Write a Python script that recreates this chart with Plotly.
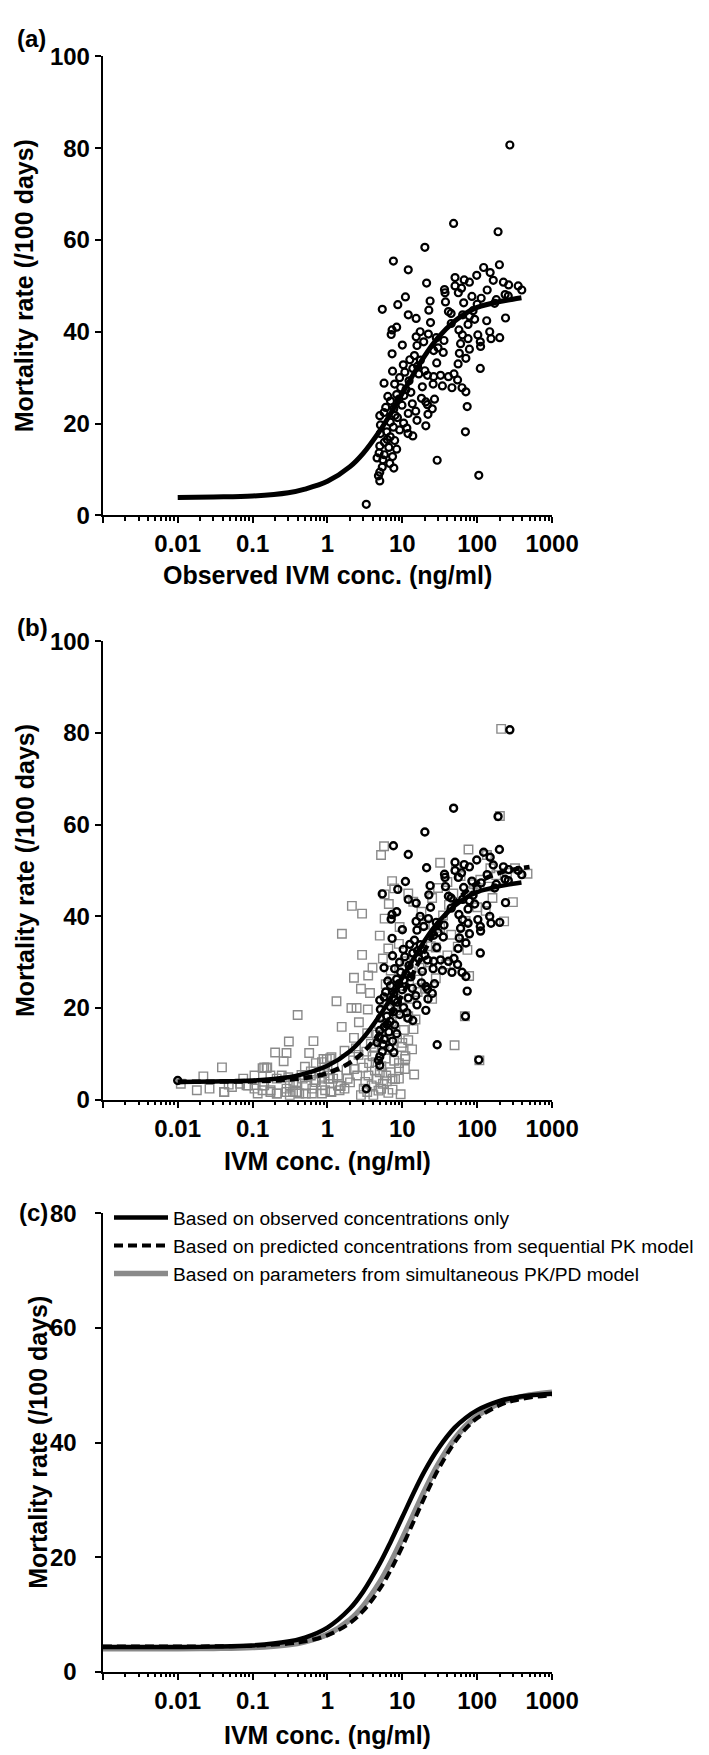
import plotly.graph_objects as go

# ---------------- data ----------------
# observed IVM concentration (ng/ml) and mortality rate (/100 days) -- black circles
obs_conc = [273, 48.4, 190, 20, 7.6, 12, 198, 122, 149, 98.6, 50.6, 67, 164, 224, 263, 353,
            78.7, 21.1, 50.6, 394, 36.6, 61.7, 136, 37.2, 56, 85, 236, 11, 113, 37.7, 23.5,
            66, 171, 8.7, 5.4, 41.3, 44.8, 22.6, 12, 239, 64, 78.7, 92.5, 134, 15.3, 23.8,
            75.5, 57, 8.4, 7.3, 7.1, 17.3, 147, 102, 22.3, 200, 153, 28.4, 63.5, 15.3, 36,
            75.5, 19.3, 110, 60, 10, 15.7, 111, 78.7, 26.2, 35.2, 57.8, 7.3, 70.6, 12.6,
            17.4, 55.6, 28.8, 10.3, 13.8, 110, 20, 7.4, 10.8, 16.6, 21.7, 26.2, 32.4, 41.3,
            54.7, 12.3, 5.7, 25.8, 34.3, 46, 62.7, 7.9, 9.5, 11.2, 70.6, 6.4, 8.4, 10.5, 18,
            26.9, 6.95, 13.6, 20.6, 9.9, 73.5, 25.1, 7.7, 15.1, 5.7, 12, 22, 8.6, 5.0, 15.7,
            6.9, 10.4, 5.1, 20.6, 7.6, 9.2, 6.2, 11.9, 13.8, 69.6, 5.1, 6.9, 5.75, 7.9, 5.0,
            6.6, 8.4, 4.9, 5.75, 7.4, 5.5, 29.2, 6.8, 5.4, 7.7, 5.0, 105, 4.8, 5.0, 3.3,
            21.7, 49, 14.5, 9.2, 18.5, 30, 45, 88, 6.0, 8.0, 11.5, 6.3, 4.6, 9.0, 13.0, 16.0,
            100, 260, 180]
obs_mort = [80.7, 63.6, 61.8, 58.4, 55.4, 53.5, 54.6, 54.0, 52.9, 52.3, 51.8, 51.3, 51.2, 50.8,
            50.2, 50.0, 50.8, 50.6, 50.0, 49.1, 49.2, 49.5, 49.1, 48.5, 48.5, 47.7, 48.1, 47.6,
            47.3, 46.5, 46.7, 46.3, 46.2, 45.9, 44.9, 44.4, 44.0, 44.7, 43.7, 43.0, 43.7, 43.4,
            42.7, 42.4, 42.9, 42.0, 41.6, 40.4, 41.0, 40.4, 39.4, 40.0, 40.0, 39.3, 39.5, 38.7,
            38.5, 38.7, 39.3, 38.9, 38.1, 38.5, 37.8, 37.8, 37.4, 37.1, 37.0, 36.8, 36.2, 35.9,
            35.5, 35.3, 35.2, 34.2, 33.9, 33.8, 33.0, 33.2, 32.8, 32.0, 32.0, 31.5, 31.4, 31.2,
            30.8, 30.5, 30.2, 30.5, 30.2, 29.5, 29.3, 28.8, 28.6, 28.2, 27.8, 27.8, 28.6, 27.8,
            27.4, 26.9, 25.9, 26.3, 26.1, 25.5, 25.3, 24.9, 24.3, 24.7, 24.0, 23.7, 23.2, 23.2,
            22.7, 22.4, 22.2, 22.0, 21.3, 21.7, 20.7, 20.3, 20.1, 19.7, 19.5, 19.2, 18.6, 18.2,
            17.8, 17.3, 18.2, 17.8, 17.1, 15.9, 16.3, 15.1, 14.8, 14.4, 13.6, 13.2, 12.8, 12.1,
            12.0, 11.3, 10.5, 10.3, 9.4, 8.7, 8.6, 7.5, 2.4,
            24.1, 30.8, 34.8, 30.0, 28.0, 36.5, 41.8, 44.6, 23.5, 21.8, 19.0, 16.5, 12.5, 25.3,
            26.8, 32.5, 46.0, 47.8, 47.0]

# extra observed point shown only in panel (b)
obs_b_extra_conc = [0.01]
obs_b_extra_mort = [4.2]

# predicted IVM concentration (ng/ml) and mortality -- grey squares (panel b)
pred_conc = [209, 201, 5.7, 5.2, 76.5, 32, 52, 135, 300, 229, 7.3, 7.8, 5.8, 6.6, 2.12, 2.9,
             5.8, 9.2, 1.56, 2.9, 5.5, 4.0, 2.26, 3.5, 2.8, 3.7, 1.32, 2.09, 2.45, 3.46, 0.40,
             1.55, 2.63, 49.9, 68.4, 107, 470, 78, 74, 12, 14, 18, 25, 30, 40, 60, 90, 150,
             180, 250, 20, 35, 45, 55, 70, 100, 130, 160, 9, 11, 13, 16, 22, 28, 8, 10, 12, 15,
             20, 25, 7, 6, 6.5, 5, 10.5, 14.1, 10, 14.4, 10.8, 9.0, 10.9, 7.4, 9.0, 6.1, 5.2,
             7.4, 4.1, 3.4, 0.305, 0.65, 2.26, 0.2, 0.284, 0.57, 0.26, 1.69, 1.08, 0.7, 0.845,
             0.039, 0.136, 0.154, 0.022, 0.075, 0.106, 0.011, 0.018, 0.042, 0.048, 0.087,
             0.136, 0.143, 0.157, 0.885, 0.98, 1.13,
             0.0266, 0.0415, 0.053, 0.068, 0.083, 0.106, 0.117, 0.143, 0.174, 0.212, 0.284,
             0.314, 0.383, 0.515, 0.628, 0.845, 1.03, 1.38, 1.69, 1.86, 2.26, 2.5, 3.05, 3.53,
             3.9, 4.3, 4.5, 5.25,
             0.173, 0.21, 0.245, 0.30, 0.314, 0.383, 0.467, 0.515, 0.6, 0.69, 0.845, 0.93,
             1.08, 1.19, 1.38, 0.136, 0.173, 0.21, 0.284, 0.347, 0.42, 0.62, 0.845, 1.13, 1.45,
             2.0, 2.8, 3.2, 3.6, 4.0, 4.8, 5.5, 6.0, 6.5, 7.0, 7.5, 8.0, 8.5, 9.0, 9.5, 4.2,
             3.0, 2.6, 1.2, 1.5, 0.7, 0.9, 1.1, 0.45, 0.35, 0.6, 5.8, 6.8, 7.2, 5.3, 4.6, 9.8,
             11.0, 12.0, 13.5, 8.2, 6.3, 9.5, 10.5, 12.5, 3.3, 4.4, 5.0, 6.2, 7.8, 3.8, 2.2,
             1.8, 2.4, 3.4, 4.9, 1.0, 0.8, 0.5, 16, 18, 24, 32, 42, 48, 85, 110, 140, 320, 28,
             38, 65, 40]
pred_mort = [80.9, 61.9, 55.3, 53.4, 54.6, 51.7, 50.3, 53.4, 43.1, 38.9, 47.7, 46.1, 44.8,
             42.7, 42.3, 40.6, 39.5, 37.7, 36.2, 31.6, 30.8, 28.8, 26.6, 27.1, 24.2, 23.3, 21.5,
             20.0, 20.0, 19.7, 18.5, 15.9, 16.9, 11.9, 18.2, 8.6, 49.3, 27.0, 32.7, 45.0, 43.2,
             41.0, 44.0, 46.2, 47.5, 48.8, 47.0, 50.5, 49.0, 49.5, 38.2, 40.2, 36.0, 33.4, 39.0,
             42.0, 41.2, 44.0, 34.0, 30.2, 28.0, 26.2, 30.0, 33.2, 22.0, 20.2, 18.2, 17.5, 24.2,
             22.0, 28.2, 25.2, 33.0, 35.8, 15.2, 15.4, 12.4, 5.5, 6.7, 6.9, 8.9, 4.6, 4.6, 5.3,
             2.4, 2.2, 1.0, 1.7, 12.7, 12.8, 13.5, 10.3, 10.2, 10.2, 8.4, 10.7, 9.0, 8.0, 8.2,
             7.07, 6.9, 6.9, 5.1, 4.6, 5.3, 3.5, 2.06, 1.7, 3.3, 3.1, 2.06, 7.07, 7.07, 8.9,
             8.9, 9.3,
             2.43, 1.7, 2.78, 3.5, 3.14, 2.43, 1.35, 3.14, 2.06, 1.35, 2.43, 0.99, 1.7, 1.35,
             2.43, 3.14, 4.57, 5.28, 2.43, 4.57, 6.7, 5.28, 2.43, 5.28, 3.14, 6.36, 4.57, 7.3,
             5.3, 4.6, 5.3, 4.9, 3.1, 3.85, 4.6, 3.1, 5.3, 3.85, 4.6, 2.06, 5.3, 4.6, 3.1, 3.1,
             1.7, 1.35, 1.7, 1.7, 1.35, 1.35, 1.35, 1.7, 2.06,
             3.8, 1.0, 3.9, 8.0, 9.5, 2.0, 3.5, 9.0, 1.5, 6.0, 11.0, 4.5, 13.5, 8.0, 1.2, 11.5,
             7.0, 9.8, 7.4, 3.0, 4.3, 5.8, 1.8, 5.4, 3.9, 6.2, 13.3, 15.0, 17.0, 11.8, 14.2,
             11.5, 9.5, 13.0, 11.0, 19.5, 21.5, 23.0, 25.5, 22.0, 10.5, 8.2, 6.0, 4.0, 8.5,
             12.2, 8.6, 6.5, 11.2, 14.5, 16.5, 6.6, 5.9, 7.2, 23.5, 28.8, 33.5, 37.5, 42.5,
             45.0, 45.5, 48.0, 46.5, 50.5, 26.5, 29.5, 36.0, 31.5]

# fitted curve, observed concentrations only (panels a and b)
fit_a_conc = [0.01, 0.03, 0.1, 0.3, 0.5, 1, 2, 3, 5, 7, 10, 15, 20, 30, 50, 70, 100, 200, 300, 390]
fit_a_mort = [3.9, 4.0, 4.2, 4.9, 5.7, 7.4, 10.6, 13.5, 18.4, 22.2, 26.6, 31.5, 34.8, 38.7,
              42.3, 44.0, 45.3, 46.6, 47.1, 47.4]

# fitted curve, predicted concentrations (panel b, dashed)
fit_b_conc = [0.01, 0.03, 0.1, 0.3, 0.5, 1, 2, 3, 5, 7, 10, 20, 30, 50, 100, 200, 300, 500]
fit_b_mort = [3.9, 3.95, 4.03, 4.37, 4.75, 5.82, 8.09, 10.37, 14.6, 18.3, 22.9, 32.6, 37.8,
              42.9, 47.3, 49.5, 50.2, 50.8]

# panel (c) curves
fit_c_conc = [0.001, 0.01, 0.03, 0.1, 0.3, 0.5, 1, 2, 3, 5, 7, 10, 15, 20, 30, 50, 70, 100,
              200, 300, 500, 1000]
fit_c_obs = [4.30, 4.32, 4.38, 4.59, 5.26, 5.96, 7.71, 11.03, 13.98, 18.9, 22.7, 27.0, 31.9,
             35.1, 38.9, 42.6, 44.3, 45.66, 47.27, 47.8, 48.2, 48.5]
fit_c_seq = [4.40, 4.41, 4.44, 4.54, 4.91, 5.30, 6.35, 8.51, 10.61, 14.45, 17.75, 21.85,
             26.94, 30.54, 35.23, 40.03, 42.38, 44.27, 46.52, 47.28, 47.85, 48.26]
fit_c_sim = [4.00, 4.02, 4.06, 4.21, 4.70, 5.22, 6.53, 9.09, 11.48, 15.66, 19.12, 23.27,
             28.26, 31.74, 36.18, 40.67, 42.89, 44.68, 46.9, 47.6, 48.3, 48.8]

legend_names = ["Based on observed concentrations only",
                "Based on predicted concentrations from sequential PK model",
                "Based on parameters from simultaneous PK/PD model"]
x_tick_vals = [0.001, 0.01, 0.1, 1, 10, 100, 1000]
x_tick_text = ["", "0.01", "0.1", "1", "10", "100", "1000"]
y_ticks_ab = [0, 20, 40, 60, 80, 100]
y_ticks_c = [0, 20, 40, 60, 80]

# ---------------- figure ----------------
W, H = 709, 1755
FONT = "Liberation Sans, Arial, Helvetica, sans-serif"
GREY = "#8a8a8a"
HIDDEN_PAD = "<span style='color:rgba(0,0,0,0)'>0</span>"

fig = go.Figure()

# panel (a)
fig.add_trace(go.Scatter(x=obs_conc, y=obs_mort, mode="markers", xaxis="x", yaxis="y",
                         marker=dict(symbol="circle-open", size=7, color="black",
                                     line=dict(width=2.2, color="black")),
                         showlegend=False))
fig.add_trace(go.Scatter(x=fit_a_conc, y=fit_a_mort, mode="lines", xaxis="x", yaxis="y",
                         line=dict(color="black", width=5, shape="spline"), showlegend=False))

# panel (b)
fig.add_trace(go.Scatter(x=pred_conc, y=pred_mort, mode="markers", xaxis="x2", yaxis="y2",
                         marker=dict(symbol="square-open", size=8.5, color=GREY,
                                     line=dict(width=1.4, color=GREY)),
                         showlegend=False))
fig.add_trace(go.Scatter(x=fit_b_conc, y=fit_b_mort, mode="lines", xaxis="x2", yaxis="y2",
                         line=dict(color="black", width=4.5, dash="9px,5px", shape="spline"),
                         showlegend=False))
fig.add_trace(go.Scatter(x=fit_a_conc, y=fit_a_mort, mode="lines", xaxis="x2", yaxis="y2",
                         line=dict(color="black", width=4.5, shape="spline"), showlegend=False))
fig.add_trace(go.Scatter(x=obs_conc + obs_b_extra_conc, y=obs_mort + obs_b_extra_mort,
                         mode="markers", xaxis="x2", yaxis="y2",
                         marker=dict(symbol="circle-open", size=7, color="black",
                                     line=dict(width=2.4, color="black")),
                         showlegend=False))

# panel (c)
fig.add_trace(go.Scatter(x=fit_c_conc, y=fit_c_sim, mode="lines", xaxis="x3", yaxis="y3",
                         name=legend_names[2], legendrank=3,
                         line=dict(color=GREY, width=5.5, shape="spline")))
fig.add_trace(go.Scatter(x=fit_c_conc, y=fit_c_obs, mode="lines", xaxis="x3", yaxis="y3",
                         name=legend_names[0], legendrank=1,
                         line=dict(color="black", width=4.5, shape="spline")))
fig.add_trace(go.Scatter(x=fit_c_conc, y=fit_c_seq, mode="lines", xaxis="x3", yaxis="y3",
                         name=legend_names[1], legendrank=2,
                         line=dict(color="black", width=4, dash="9px,5px", shape="spline")))

def px_x(p):
    return p / W

def px_y(p):
    return 1 - p / H

xdom = [px_x(98.6), px_x(565.6)]
minor_vals = [m * 10 ** e for e in range(-3, 3) for m in range(2, 10)]

def xaxis(anchor):
    return dict(type="log", range=[-3, 3], domain=xdom, anchor=anchor,
                showline=True, linewidth=2.2, linecolor="black", showgrid=False, zeroline=False,
                tickvals=x_tick_vals, ticktext=x_tick_text, ticks="outside", ticklen=6,
                tickwidth=2, tickcolor="black",
                tickfont=dict(family=FONT, size=24, color="black", weight="bold"),
                minor=dict(tickvals=minor_vals, ticks="outside", ticklen=3.5, tickwidth=1.6,
                           tickcolor="black", showgrid=False))

def yaxis(anchor, dom, rng, vals, pad):
    return dict(range=rng, domain=dom, anchor=anchor, showline=True, linewidth=2.2,
                linecolor="black", showgrid=False, zeroline=False, tickvals=vals,
                ticktext=[str(v) + (HIDDEN_PAD if pad else "") for v in vals],
                ticks="outside", ticklen=6, tickwidth=2, tickcolor="black",
                tickfont=dict(family=FONT, size=24, color="black", weight="bold"))

fig.update_layout(
    width=W, height=H, margin=dict(l=0, r=0, t=0, b=0),
    paper_bgcolor="white", plot_bgcolor="white",
    font=dict(family=FONT, color="black"),
    xaxis=xaxis("y"), xaxis2=xaxis("y2"), xaxis3=xaxis("y3"),
    yaxis=yaxis("x", [px_y(501), px_y(35)], [0, 100], y_ticks_ab, False),
    yaxis2=yaxis("x2", [px_y(1094.6), px_y(629)], [0, 100], y_ticks_ab, False),
    yaxis3=yaxis("x3", [px_y(1675.5), px_y(1210)], [0, 80], y_ticks_c, True),
    legend=dict(x=px_x(105), y=px_y(1195), xanchor="left", yanchor="top",
                font=dict(family=FONT, size=19.2, color="black"),
                bgcolor="rgba(0,0,0,0)", itemwidth=54, tracegroupgap=0,
                traceorder="normal"),
    showlegend=True,
)

ann = []
def add_text(text, x, y, size, bold=True, angle=0):
    ann.append(dict(text=("<b>%s</b>" % text) if bold else text, x=px_x(x), y=px_y(y),
                    xref="paper", yref="paper", showarrow=False, textangle=angle,
                    xanchor="center", yanchor="middle",
                    font=dict(family=FONT, size=size, color="black")))

add_text("(a)", 24, 17, 24)
add_text("(b)", 25, 615, 24)
add_text("(c)", 27, 1209, 24)
add_text("Mortality rate (/100 days)", 17, 268, 25, angle=-90)
add_text("Mortality rate (/100 days)", 17, 862, 25, angle=-90)
add_text("Mortality rate (/100 days)", 30.5, 1442.7, 25, angle=-90)
add_text("Observed IVM conc. (ng/ml)", 332, 562, 25)
add_text("IVM conc. (ng/ml)", 332, 1156.4, 25)
add_text("IVM conc. (ng/ml)", 332, 1739.4, 25)
fig.update_layout(annotations=ann)

fig.write_html("out.html")
